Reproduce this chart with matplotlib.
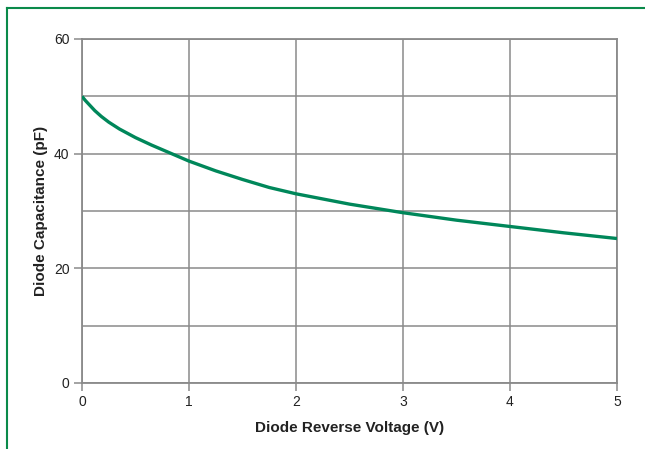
import matplotlib.pyplot as plt
from matplotlib.lines import Line2D

plt.rcParams['font.family'] = ['Liberation Sans', 'DejaVu Sans']

# values
voltage = [0, 0.03, 0.07, 0.12, 0.18, 0.25, 0.35, 0.5, 0.65, 0.8, 1, 1.25, 1.5, 1.75, 2,
           2.5, 3, 3.5, 4, 4.5, 5]
capacitance = [50, 49.3, 48.5, 47.5, 46.5, 45.5, 44.3, 42.8, 41.5, 40.3, 38.7, 37.0, 35.5, 34.1, 33.0,
               31.2, 29.7, 28.4, 27.3, 26.2, 25.2]
y_labels = [0, 20, 40, 60]
x_labels = [0, 1, 2, 3, 4, 5]

fig = plt.figure(figsize=(6.45, 4.49), dpi=100)
ax = fig.add_axes([82 / 645, 1 - 383 / 449, 535 / 645, 344 / 449])

grey = '#8a8a8a'
ax.plot(voltage, capacitance, color='#00875a', lw=2.4, solid_capstyle='butt', zorder=3)

ax.set_xlim(0, 5)
ax.set_ylim(0, 60)
ax.set_xticks(x_labels)
ax.set_yticks(y_labels)
ax.set_yticks(range(0, 61, 10), minor=True)
ax.grid(True, which='both', color=grey, lw=1.1)
ax.tick_params(which='major', length=6, width=1.1, color=grey, labelsize=10, pad=3,
               labelcolor='#222222')
ax.tick_params(which='minor', length=0)
for s in ax.spines.values():
    s.set_color(grey)
    s.set_linewidth(1.3)

ax.set_xlabel('Diode Reverse Voltage (V)', fontsize=11, fontweight='bold', labelpad=8,
              color='#222222')
ax.set_ylabel('Diode Capacitance (pF)', fontsize=11, fontweight='bold', labelpad=4,
              color='#222222')

# green frame around the figure (top and left edges visible)
fig.add_artist(Line2D([7 / 645, 1], [1 - 8 / 449, 1 - 8 / 449], color='#0a8a4a', lw=1.5))
fig.add_artist(Line2D([7 / 645, 7 / 645], [0, 1 - 8 / 449], color='#0a8a4a', lw=1.5))

fig.savefig('out.png', dpi=100)
